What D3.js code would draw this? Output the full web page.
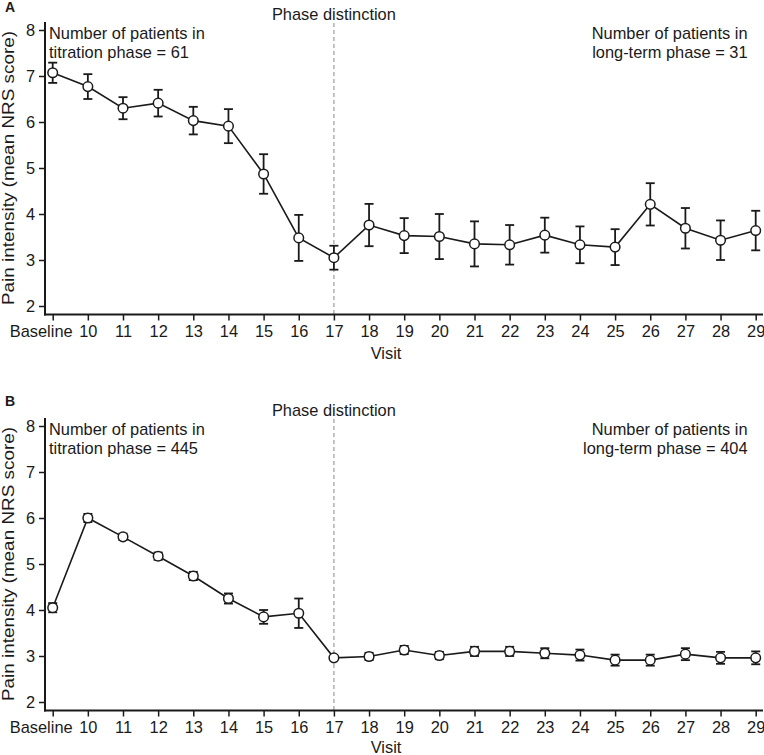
<!DOCTYPE html>
<html>
<head>
<meta charset="utf-8">
<script src="https://cdn.jsdelivr.net/npm/d3@7/dist/d3.min.js"></script>
<style>
  html, body { margin: 0; padding: 0; background: #fff; }
  svg { display: block; font-family: "Liberation Sans", Arial, sans-serif; }
</style>
</head>
<body>
<svg id="chart" width="764" height="755"></svg>
<script>
// ---- data ----
const visits = ["Baseline","10","11","12","13","14","15","16","17","18","19","20","21","22","23","24","25","26","27","28","29"];
const yTicks = [2, 3, 4, 5, 6, 7, 8];
const phaseVisit = "17";

const meanA = [7.07, 6.77, 6.30, 6.41, 6.03, 5.91, 4.87, 3.48, 3.05, 3.76, 3.53, 3.51, 3.35, 3.33, 3.54, 3.33, 3.28, 4.21, 3.69, 3.43, 3.64];
const errA  = [0.22, 0.27, 0.24, 0.29, 0.30, 0.37, 0.43, 0.50, 0.26, 0.46, 0.38, 0.49, 0.49, 0.43, 0.38, 0.40, 0.39, 0.46, 0.44, 0.43, 0.43];

const meanB = [4.05, 6.00, 5.59, 5.17, 4.74, 4.25, 3.85, 3.93, 2.96, 2.99, 3.13, 3.01, 3.10, 3.10, 3.06, 3.02, 2.91, 2.91, 3.04, 2.96, 2.96];
const errB  = [0.10, 0.09, 0.07, 0.08, 0.09, 0.11, 0.15, 0.32, 0.02, 0.08, 0.09, 0.08, 0.10, 0.10, 0.11, 0.12, 0.12, 0.12, 0.13, 0.13, 0.14];

const panels = [
  { label: "A", mean: meanA, err: errA, left: ["Number of patients in", "titration phase = 61"], right: ["Number of patients in", "long-term phase = 31"], dy: 0, ly: 11.7, vy: 358.5 },
  { label: "B", mean: meanB, err: errB, left: ["Number of patients in", "titration phase = 445"], right: ["Number of patients in", "long-term phase = 404"], dy: 396, ly: 10, vy: 357 }
];

const svg = d3.select("#chart");
const FS = 16.4;
const ink = "#1a1a1a";

const x = d3.scalePoint().domain(visits).range([52.7, 755.7]);

panels.forEach(p => {
  const g = svg.append("g").attr("transform", `translate(0,${p.dy})`);
  const y = d3.scaleLinear().domain([2, 8]).range([306, 30]);
  const axisY = 314.5, axisX = 45;

  // panel letter
  g.append("text").attr("x", 5).attr("y", p.ly).attr("font-size", 14).attr("font-weight", "bold").attr("fill", ink).text(p.label);

  // phase distinction line
  g.append("line")
    .attr("x1", x(phaseVisit)).attr("x2", x(phaseVisit))
    .attr("y1", 23).attr("y2", axisY)
    .attr("stroke", "#b0b0b0").attr("stroke-width", 1.5).attr("stroke-dasharray", "4,3");
  g.append("text").attr("x", x(phaseVisit)).attr("y", 19.5).attr("text-anchor", "middle")
    .attr("font-size", FS).attr("fill", ink).text("Phase distinction");

  // axes
  const yAxis = d3.axisLeft(y).tickValues(yTicks).tickFormat(d3.format("d")).tickSize(6).tickPadding(4).tickSizeOuter(0);
  const ga = g.append("g").attr("transform", `translate(${axisX},0)`).call(yAxis);
  ga.select(".domain").remove();
  ga.selectAll("line").attr("stroke", ink).attr("stroke-width", 1.5);
  ga.selectAll("text").attr("font-size", FS).attr("fill", ink).attr("font-family", "Liberation Sans, Arial, sans-serif");

  const xAxis = d3.axisBottom(x).tickSize(6).tickPadding(5).tickSizeOuter(0);
  const gx = g.append("g").attr("transform", `translate(0,${axisY})`).call(xAxis);
  gx.select(".domain").remove();
  gx.selectAll("line").attr("stroke", ink).attr("stroke-width", 1.5);
  gx.selectAll("text").attr("font-size", FS).attr("fill", ink).attr("font-family", "Liberation Sans, Arial, sans-serif")
    .attr("dx", d => d === "Baseline" ? -12 : 0);

  g.append("line").attr("x1", axisX).attr("x2", axisX).attr("y1", 22).attr("y2", axisY + 1)
    .attr("stroke", ink).attr("stroke-width", 2);
  g.append("line").attr("x1", axisX - 1).attr("x2", 763).attr("y1", axisY).attr("y2", axisY)
    .attr("stroke", ink).attr("stroke-width", 2);

  // axis titles
  g.append("text").attr("x", 386).attr("y", p.vy).attr("text-anchor", "middle")
    .attr("font-size", FS).attr("fill", ink).text("Visit");
  g.append("text").attr("transform", `translate(14,${(y(2) + y(8)) / 2}) rotate(-90)`)
    .attr("text-anchor", "middle").attr("font-size", FS).attr("fill", ink)
    .attr("textLength", 274).attr("lengthAdjust", "spacingAndGlyphs")
    .text("Pain intensity (mean NRS score)");

  // annotations
  p.left.forEach((t, i) => g.append("text").attr("x", 49).attr("y", 38.5 + i * 19)
    .attr("font-size", FS).attr("fill", ink).text(t));
  p.right.forEach((t, i) => g.append("text").attr("x", 747.5).attr("y", 38.5 + i * 19)
    .attr("text-anchor", "end").attr("font-size", FS).attr("fill", ink).text(t));

  const data = visits.map((v, i) => ({ v, m: p.mean[i], e: p.err[i] }));

  // error bars
  const eb = g.append("g").attr("stroke", ink).attr("stroke-width", 1.8).attr("fill", "none");
  data.forEach(d => {
    eb.append("line").attr("x1", x(d.v)).attr("x2", x(d.v)).attr("y1", y(d.m - d.e)).attr("y2", y(d.m + d.e));
    eb.append("line").attr("x1", x(d.v) - 4.5).attr("x2", x(d.v) + 4.5).attr("y1", y(d.m - d.e)).attr("y2", y(d.m - d.e));
    eb.append("line").attr("x1", x(d.v) - 4.5).attr("x2", x(d.v) + 4.5).attr("y1", y(d.m + d.e)).attr("y2", y(d.m + d.e));
  });

  // line
  g.append("path").datum(data)
    .attr("d", d3.line().x(d => x(d.v)).y(d => y(d.m)))
    .attr("fill", "none").attr("stroke", ink).attr("stroke-width", 1.6);

  // markers
  g.selectAll("circle.pt").data(data).enter().append("circle")
    .attr("class", "pt")
    .attr("cx", d => x(d.v)).attr("cy", d => y(d.m)).attr("r", 4.8)
    .attr("fill", "#fff").attr("stroke", ink).attr("stroke-width", 1.5);
});
</script>
</body>
</html>
